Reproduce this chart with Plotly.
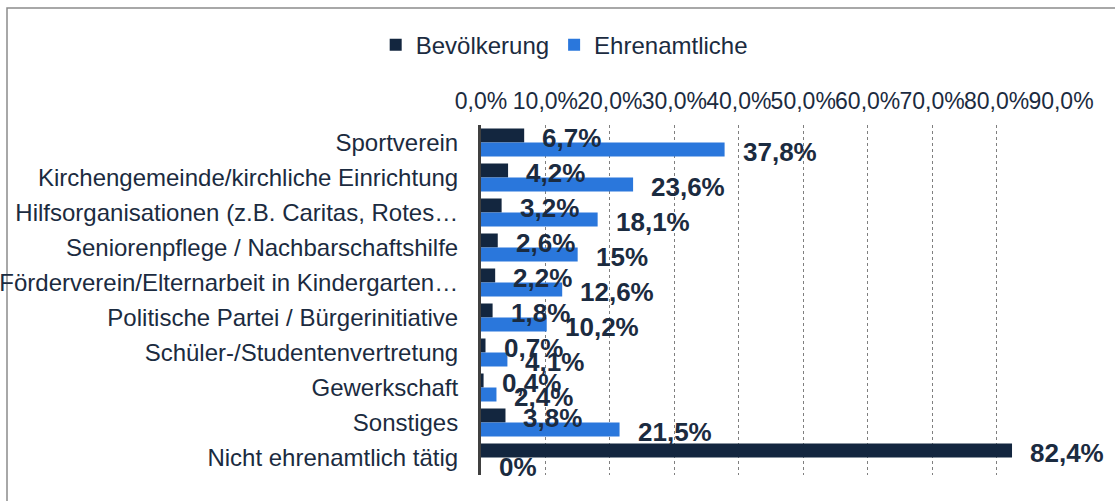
import plotly.graph_objects as go

categories = [
    "Sportverein",
    "Kirchengemeinde/kirchliche Einrichtung",
    "Hilfsorganisationen (z.B. Caritas, Rotes…",
    "Seniorenpflege / Nachbarschaftshilfe",
    "Förderverein/Elternarbeit in Kindergarten…",
    "Politische Partei / Bürgerinitiative",
    "Schüler-/Studentenvertretung",
    "Gewerkschaft",
    "Sonstiges",
    "Nicht ehrenamtlich tätig",
]
bevoelkerung = [6.7, 4.2, 3.2, 2.6, 2.2, 1.8, 0.7, 0.4, 3.8, 82.4]
ehrenamtliche = [37.8, 23.6, 18.1, 15, 12.6, 10.2, 4.1, 2.4, 21.5, 0]
tick_vals = [0, 10, 20, 30, 40, 50, 60, 70, 80, 90]
tick_text = ["0,0%", "10,0%", "20,0%", "30,0%", "40,0%", "50,0%", "60,0%", "70,0%", "80,0%", "90,0%"]

DARK = "#13263f"
BLUE = "#2a77dc"
TEXT = "#1b2b40"
FONT = "Liberation Sans, Arial, sans-serif"


def fmt(v):
    return f"{v:g}".replace(".", ",") + "%"


fig = go.Figure()
fig.add_trace(go.Bar(y=categories, x=bevoelkerung, name="Bevölkerung", orientation="h",
                     marker=dict(color=DARK, line=dict(width=0)), hoverinfo="skip"))
fig.add_trace(go.Bar(y=categories, x=ehrenamtliche, name="Ehrenamtliche", orientation="h",
                     marker=dict(color=BLUE, line=dict(width=0)), hoverinfo="skip"))

annotations = []
for c, v in zip(categories, bevoelkerung):
    annotations.append(dict(x=v, y=c, text=fmt(v), showarrow=False, xanchor="left", yanchor="middle",
                            xshift=16, yshift=5, font=dict(family=FONT, size=26, color=TEXT, weight="bold")))
for c, v in zip(categories, ehrenamtliche):
    annotations.append(dict(x=v, y=c, text=fmt(v), showarrow=False, xanchor="left", yanchor="middle",
                            xshift=16, yshift=-9, font=dict(family=FONT, size=26, color=TEXT, weight="bold")))

fig.update_layout(
    width=1115, height=501,
    margin=dict(l=481, r=54, t=125, b=26, autoexpand=False),
    paper_bgcolor="white", plot_bgcolor="white",
    barmode="group", bargap=0.2, bargroupgap=0,
    font=dict(family=FONT, color=TEXT, size=23),
    legend=dict(orientation="h", xref="container", yref="container", x=0.506, y=0.91,
                xanchor="center", yanchor="middle", font=dict(size=24, color=TEXT),
                itemwidth=30, traceorder="normal"),
    annotations=annotations,
    xaxis=dict(range=[0, 90], side="top", tickvals=tick_vals, ticktext=tick_text,
               showgrid=True, gridcolor="#7f7f7f", griddash="dot", gridwidth=1,
               zeroline=False, showline=False, ticks="", ticklabelstandoff=10, tickangle=0,
               tickfont=dict(size=23, color=TEXT), fixedrange=True, automargin=False),
    yaxis=dict(type="category", categoryorder="array", categoryarray=categories,
               range=[len(categories) - 0.5, -0.5], autorange=False,
               showline=True, linecolor="#404040", linewidth=3,
               ticks="", ticklabelstandoff=15, tickfont=dict(size=24, color=TEXT),
               showgrid=False, fixedrange=True, automargin=False),
    shapes=[dict(type="rect", xref="paper", yref="paper",
                 x0=(7 - 481) / 580, x1=(1125 - 481) / 580,
                 y0=(475 - 510) / 350, y1=1 + (125 - 8) / 350,
                 line=dict(color="#8c8c8c", width=1.5), fillcolor="rgba(0,0,0,0)", layer="below")],
)

fig.write_html("out.html", config={"displayModeBar": False},
               post_script="document.body.style.margin='0';document.body.style.overflow='hidden';")
